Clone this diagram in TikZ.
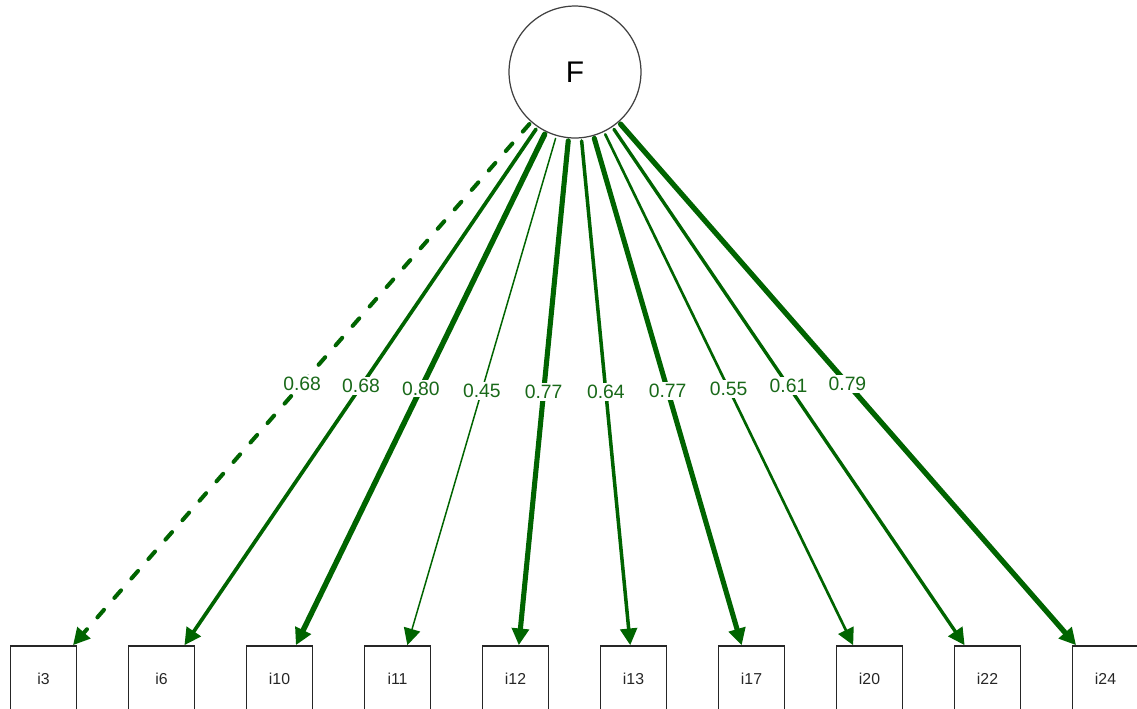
\documentclass[tikz,border=0pt]{standalone}
\usepackage{fontspec}
\setmainfont{Liberation Sans}
\usetikzlibrary{arrows.meta,calc}
\definecolor{pathgreen}{RGB}{0,100,0}
\definecolor{labgreen}{RGB}{25,105,25}
\begin{document}
\begin{tikzpicture}[x=0.02cm,y=-0.02cm,
  latent/.style={circle,draw=black!75,line width=0.7pt,minimum size=75.1pt,inner sep=0pt,
    font=\fontsize{17}{20}\selectfont},
  manifest/.style={rectangle,draw=black!85,line width=0.9pt,minimum width=37.6pt,
    minimum height=37.6pt,inner sep=0pt,font=\fontsize{9}{11}\selectfont,text=black!85},
  load/.style={draw=pathgreen,line cap=round,shorten <=1.5pt,
    -{Triangle[length=9.5pt,width=9.5pt]}},
  dashload/.style={load,dash pattern=on 5.7pt off 9pt},
  lab/.style={fill=white,text=labgreen,inner sep=1.2pt,font=\fontsize{11}{13}\selectfont}]
\useasboundingbox (0,0) rectangle (1137,708);
\clip (0,0) rectangle (1137,708);
\node[latent] (F) at (575,72) {F};
\node[manifest] (b3)  at (43.5,679)  {i3};
\node[manifest] (b6)  at (161.5,679) {i6};
\node[manifest] (b10) at (279.5,679) {i10};
\node[manifest] (b11) at (397.5,679) {i11};
\node[manifest] (b12) at (515.5,679) {i12};
\node[manifest] (b13) at (633.5,679) {i13};
\node[manifest] (b17) at (751.5,679) {i17};
\node[manifest] (b20) at (869.5,679) {i20};
\node[manifest] (b22) at (987.5,679) {i22};
\node[manifest] (b24) at (1105.5,679) {i24};
\draw[dashload,line width=2.3pt] (F) -- node[lab]{0.68} (b3);
\draw[load,line width=2.1pt] (F) -- node[lab]{0.68} (b6);
\draw[load,line width=3.1pt] (F) -- node[lab]{0.80} (b10);
\draw[load,line width=0.85pt] (F) -- node[lab]{0.45} (b11);
\draw[load,line width=2.9pt] (F) -- node[lab]{0.77} (b12);
\draw[load,line width=2.0pt] (F) -- node[lab]{0.64} (b13);
\draw[load,line width=2.9pt] (F) -- node[lab]{0.77} (b17);
\draw[load,line width=1.5pt] (F) -- node[lab]{0.55} (b20);
\draw[load,line width=1.9pt] (F) -- node[lab]{0.61} (b22);
\draw[load,line width=3.0pt] (F) -- node[lab]{0.79} (b24);
\end{tikzpicture}
\end{document}
